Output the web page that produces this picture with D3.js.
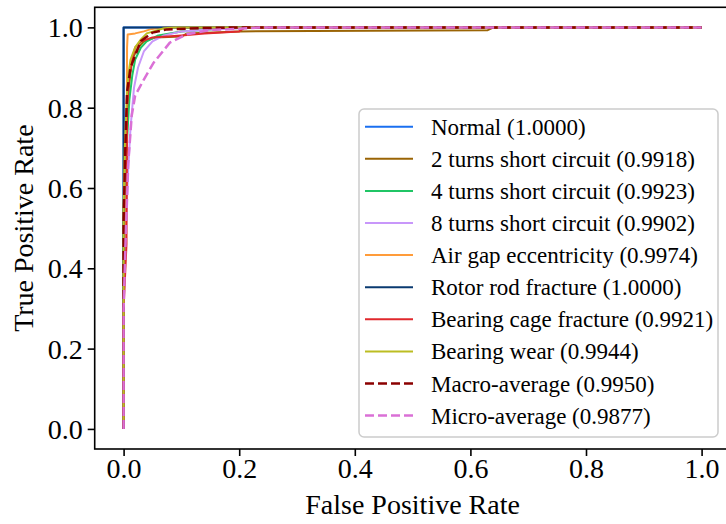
<!DOCTYPE html>
<html>
<head>
<meta charset="utf-8">
<script src="https://cdn.jsdelivr.net/npm/d3@7"></script>
<style>
  body { margin: 0; background: #fff; }
  svg { display: block; }
  svg text { font-family: 'Liberation Serif', 'Times New Roman', serif !important; fill: #000; }
</style>
</head>
<body>
<svg id="chart" width="726" height="524"></svg>
<script>
// ROC curves, one fpr / tpr pair per class
const fprNormal = [0, 0, 1];
const tprNormal = [0, 1, 1];

const fprTurns2 = [0, 0, 0.002, 0.004, 0.006, 0.009, 0.013, 0.018, 0.025, 0.035, 0.055, 0.1, 0.11, 0.2, 0.63, 0.64, 1];
const tprTurns2 = [0, 0.55, 0.62, 0.70, 0.78, 0.85, 0.90, 0.93, 0.95, 0.965, 0.975, 0.977, 0.985, 0.99, 0.993, 1, 1];

const fprTurns4 = [0, 0, 0.003, 0.006, 0.01, 0.015, 0.02, 0.03, 0.04, 0.06, 0.1, 0.15, 0.2, 1];
const tprTurns4 = [0, 0.5, 0.6, 0.72, 0.82, 0.88, 0.92, 0.95, 0.965, 0.98, 0.99, 0.995, 1, 1];

const fprTurns8 = [0, 0, 0.004, 0.008, 0.012, 0.018, 0.025, 0.035, 0.05, 0.07, 0.1, 0.15, 0.25, 1];
const tprTurns8 = [0, 0.3, 0.5, 0.65, 0.75, 0.85, 0.9, 0.94, 0.965, 0.98, 0.99, 0.995, 1, 1];

const fprAirGap = [0, 0, 0.005, 0.006, 0.007, 0.02, 0.035, 0.046, 0.07, 1];
const tprAirGap = [0, 0.4, 0.6, 0.95, 0.982, 0.985, 0.99, 0.995, 1, 1];

const fprRotor = [0, 0, 1];
const tprRotor = [0, 1, 1];

const fprCage = [0, 0, 0.005, 0.006, 0.01, 0.015, 0.02, 0.03, 0.05, 0.1, 0.14, 0.2, 0.21, 1];
const tprCage = [0, 0.3, 0.46, 0.8, 0.88, 0.92, 0.95, 0.965, 0.975, 0.98, 0.985, 0.99, 1, 1];

const fprWear = [0, 0, 0.002, 0.005, 0.008, 0.012, 0.02, 0.03, 0.04, 0.07, 0.09, 1];
const tprWear = [0, 0.55, 0.7, 0.8, 0.88, 0.92, 0.95, 0.97, 0.985, 0.998, 1, 1];

const fprMacro = [0, 0, 0.003, 0.006, 0.012, 0.02, 0.03, 0.05, 0.075, 0.13, 0.2, 1];
const tprMacro = [0, 0.52, 0.7, 0.84, 0.9, 0.93, 0.966, 0.987, 0.995, 0.998, 1, 1];

const fprMicro = [0, 0, 0.003, 0.008, 0.014, 0.02, 0.035, 0.052, 0.08, 0.11, 0.15, 0.24, 1];
const tprMicro = [0, 0.3, 0.45, 0.66, 0.78, 0.83, 0.87, 0.912, 0.962, 0.983, 0.993, 1, 1];

const labels = ["Normal", "2 turns short circuit", "4 turns short circuit", "8 turns short circuit",
  "Air gap eccentricity", "Rotor rod fracture", "Bearing cage fracture", "Bearing wear",
  "Macro-average", "Micro-average"];
const aucs = [1.0, 0.9918, 0.9923, 0.9902, 0.9974, 1.0, 0.9921, 0.9944, 0.9950, 0.9877];
const colors = ["#1a6ff0", "#9a6405", "#20c565", "#c897fa", "#ff9c3a", "#0a3a70", "#e0282c", "#bcbd22", "#8b0000", "#da70d6"];
const dashed = [false, false, false, false, false, false, false, false, true, true];
const xTicks = [0, 0.2, 0.4, 0.6, 0.8, 1.0];
const yTicks = [0, 0.2, 0.4, 0.6, 0.8, 1.0];

const curves = [
  [fprNormal, tprNormal], [fprTurns2, tprTurns2], [fprTurns4, tprTurns4], [fprTurns8, tprTurns8],
  [fprAirGap, tprAirGap], [fprRotor, tprRotor], [fprCage, tprCage], [fprWear, tprWear],
  [fprMacro, tprMacro], [fprMicro, tprMicro]
].map(([f, t], i) => ({ i, pts: f.map((v, k) => [v, t[k]]) }));

const plotL = 94.7, plotR = 730.5, plotT = 7.3, plotB = 449;
const serif = "'Liberation Serif', 'Times New Roman', serif";
const svg = d3.select("#chart");

const x = d3.scaleLinear().domain([-0.05, 1.05]).range([plotL, plotR]);
const y = d3.scaleLinear().domain([-0.05, 1.05]).range([plotB, plotT]);

const line = d3.line().x(d => x(d[0])).y(d => y(d[1]));

svg.append("g")
  .selectAll("path")
  .data(curves)
  .enter()
  .append("path")
  .attr("d", d => line(d.pts))
  .attr("fill", "none")
  .attr("stroke", d => colors[d.i])
  .attr("stroke-width", d => dashed[d.i] ? 2.5 : 2)
  .attr("stroke-dasharray", d => dashed[d.i] ? "9,4" : null)
  .attr("stroke-linejoin", "round");

// axes
const xAxis = svg.append("g")
  .attr("transform", "translate(0," + plotB + ")")
  .call(d3.axisBottom(x).tickValues(xTicks).tickFormat(d3.format(".1f")).tickSize(7).tickPadding(7).tickSizeOuter(0));
const yAxis = svg.append("g")
  .attr("transform", "translate(" + plotL + ",0)")
  .call(d3.axisLeft(y).tickValues(yTicks).tickFormat(d3.format(".1f")).tickSize(7).tickPadding(5).tickSizeOuter(0));

[xAxis, yAxis].forEach(a => {
  a.attr("font-family", serif).attr("font-size", 28);
  a.select(".domain").remove();
  a.selectAll(".tick line").attr("stroke", "#000").attr("stroke-width", 1.6);
  a.selectAll(".tick text").attr("fill", "#000");
});
xAxis.selectAll(".tick text").attr("dy", "0.55em");
yAxis.selectAll(".tick text").attr("dy", "0.34em");

// frame
svg.append("rect")
  .attr("x", plotL).attr("y", plotT)
  .attr("width", plotR - plotL).attr("height", plotB - plotT)
  .attr("fill", "none").attr("stroke", "#000").attr("stroke-width", 1.6);

svg.append("text")
  .attr("x", (plotL + plotR) / 2).attr("y", 514)
  .attr("text-anchor", "middle")
  .attr("font-family", serif).attr("font-size", 28)
  .text("False Positive Rate");

svg.append("text")
  .attr("transform", "translate(33," + (plotT + plotB) / 2 + ") rotate(-90)")
  .attr("text-anchor", "middle")
  .attr("font-family", serif).attr("font-size", 28)
  .text("True Positive Rate");

// legend
const lg = svg.append("g").attr("font-family", serif).attr("font-size", 23);
lg.append("rect")
  .attr("x", 359).attr("y", 109).attr("width", 359).attr("height", 328)
  .attr("rx", 5).attr("fill", "#fff").attr("fill-opacity", 0.8)
  .attr("stroke", "#cccccc").attr("stroke-width", 1.5);

const rows = lg.selectAll("g.row")
  .data(labels)
  .enter()
  .append("g")
  .attr("transform", (d, i) => "translate(0," + (126.7 + 32.1 * i) + ")");

rows.append("line")
  .attr("x1", 365).attr("x2", 413)
  .attr("stroke", (d, i) => colors[i])
  .attr("stroke-width", (d, i) => dashed[i] ? 2.5 : 2)
  .attr("stroke-dasharray", (d, i) => dashed[i] ? "9,4" : null);

rows.append("text")
  .attr("x", 431).attr("y", 8)
  .text((d, i) => d + " (" + aucs[i].toFixed(4) + ")");
</script>
</body>
</html>
